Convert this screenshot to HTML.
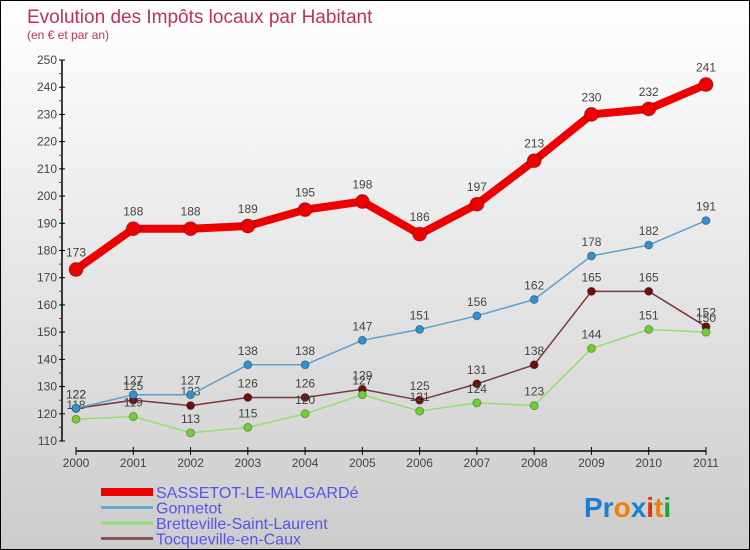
<!DOCTYPE html>
<html><head><meta charset="utf-8"><style>
body{margin:0}
#c{width:750px;height:550px;position:relative;box-sizing:border-box;border:1px solid #000;background:linear-gradient(#fff,#ccc);font-family:"Liberation Sans",sans-serif;overflow:hidden}
</style></head><body>
<div id="c">
<svg id="s" width="748" height="548" style="position:absolute;left:0;top:0">
<text x="26" y="22" font-size="19" fill="#c0305a">Evolution des Impôts locaux par Habitant</text>
<text x="26" y="38" font-size="12" fill="#c0305a">(en € et par an)</text>
<g id="axes"></g><g id="series"></g><g id="legend"></g>
<text x="583" y="516" font-size="28" font-weight="bold"><tspan fill="#1a7fd0">Pr</tspan><tspan fill="#f08000">o</tspan><tspan fill="#1a7fd0">x</tspan><tspan fill="#e03010">i</tspan><tspan fill="#f08000">t</tspan><tspan fill="#20a040">i</tspan></text>
</svg></div>
<script>
const years=[2000,2001,2002,2003,2004,2005,2006,2007,2008,2009,2010,2011];
const yTicks=[110,120,130,140,150,160,170,180,190,200,210,220,230,240,250];
const sassetot=[173,188,188,189,195,198,186,197,213,230,232,241];
const gonnetot=[122,127,127,138,138,147,151,156,162,178,182,191];
const bretteville=[118,119,113,115,120,127,121,124,123,144,151,150];
const tocqueville=[122,125,123,126,126,129,125,131,138,165,165,152];
const NS="http://www.w3.org/2000/svg";
function X(i){return 75+i*(630/11);}
function Y(v){return 440-(v-110)*(381/140);}
function mk(t,a,p){const e=document.createElementNS(NS,t);for(const k in a)e.setAttribute(k,a[k]);p.appendChild(e);return e;}
const ax=document.getElementById('axes');
let l=mk('line',{x1:61,y1:Y(250),x2:61,y2:Y(110),stroke:'#000','stroke-width':1.5},ax);


yTicks.forEach(v=>{
 mk('line',{x1:58,y1:Y(v),x2:64,y2:Y(v),stroke:'#000'},ax);
 if(v<250)mk('line',{x1:58,y1:Y(v+5),x2:61,y2:Y(v+5),stroke:'#e00'},ax);
 const t=mk('text',{x:56,y:Y(v)+4,'font-size':12,fill:'#444','text-anchor':'end'},ax);t.textContent=v;
 
 
});
l=mk('line',{x1:X(0),y1:450,x2:X(11),y2:450,stroke:'#000','stroke-width':1.5},ax);


years.forEach((y,i)=>{
 mk('line',{x1:X(i),y1:446,x2:X(i),y2:454,stroke:'#000'},ax);
 const t=mk('text',{x:X(i),y:466,'font-size':12,fill:'#444','text-anchor':'middle'},ax);t.textContent=y;
 
 
});
const sg=document.getElementById('series');
const series=[
 {n:'tocqueville',d:tocqueville,c:'#7a3a3a',m:'#6a1010',w:1.5,r:4},
 {n:'bretteville',d:bretteville,c:'#90e070',m:'#70d030',w:1.5,r:4},
 {n:'gonnetot',d:gonnetot,c:'#5aa0d0',m:'#3090d0',w:1.5,r:4},
 {n:'sassetot',d:sassetot,c:'#ee0000',m:'#ee0000',w:8,r:7}];
series.forEach(s=>{
 const g=mk('g',{},sg);
 
 
 const pl=mk('polyline',{points:s.d.map((v,i)=>X(i)+','+Y(v)).join(' '),fill:'none',stroke:s.c,'stroke-width':s.w,'stroke-linejoin':'round'},g);
 
 
 s.d.forEach((v,i)=>{
  const c=mk('circle',{cx:X(i),cy:Y(v),r:s.r,fill:s.m,stroke:'rgba(0,0,0,0.3)'},g);
  
  
  const t=mk('text',{x:X(i),y:Y(v)-(s.r+6),'font-size':12,fill:'#444','text-anchor':'middle'},g);t.textContent=v;
  
  
 });
});
const lg=document.getElementById('legend');
const legend=[['SASSETOT-LE-MALGARDé','#ee0000',8],['Gonnetot','#6aa8d0',3],['Bretteville-Saint-Laurent','#90e070',3],['Tocqueville-en-Caux','#8a5555',3]];
legend.forEach((e,i)=>{
 const y=491+i*15.5;
 const g=mk('g',{},lg);
 
 
 mk('line',{x1:100,y1:y,x2:152,y2:y,stroke:e[1],'stroke-width':e[2]},g);
 const t=mk('text',{x:155,y:y+6,'font-size':16,fill:'#5555ee'},g);t.textContent=e[0];
});
</script></body></html>
